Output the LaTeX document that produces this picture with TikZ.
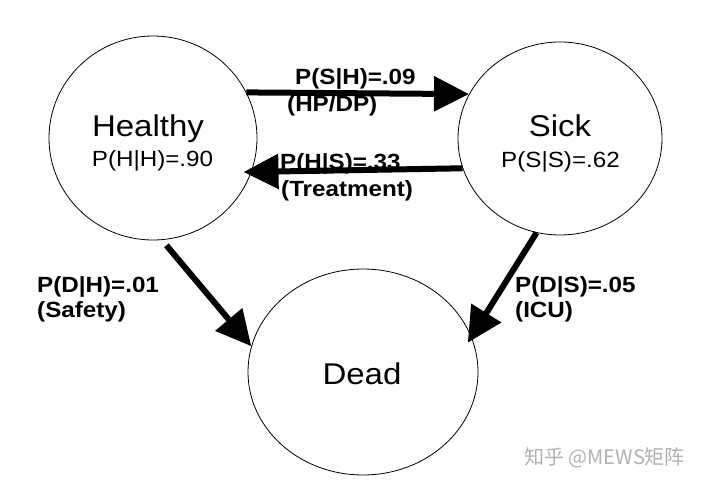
\documentclass[tikz,border=0pt]{standalone}
\usepackage{fontspec}
\setmainfont{Liberation Sans}[FakeStretch=1.1]
\newfontfamily\cjk{Noto Sans CJK SC}
\usetikzlibrary{shapes.geometric,arrows.meta}
\begin{document}
\begin{tikzpicture}[x=1pt,y=1pt,
  state/.style={draw,ellipse,line width=0.8pt,inner sep=0pt},
  bigtxt/.style={inner sep=0pt,anchor=base,font=\fontsize{30}{34}\selectfont},
  probtxt/.style={inner sep=0pt,anchor=base,font=\fontsize{22}{26}\selectfont},
  edgetxt/.style={inner sep=0pt,anchor=base west,font=\bfseries\fontsize{22}{26}\selectfont},
  trans/.style={line width=6pt,-{Triangle[length=35pt,width=34pt]}}]
\fill[white] (0,0) rectangle (708,485);
\useasboundingbox (0,0) rectangle (708,485);
% states
\node[state,minimum width=208pt,minimum height=204pt] (H) at (153,347) {};
\node[state,minimum width=204pt,minimum height=193pt] (S) at (560,346.5) {};
\node[state,minimum width=230pt,minimum height=206pt] (D) at (363,113) {};
\node[bigtxt] (Ht) at (148,348) {Healthy};
\node[probtxt] (Hp) at (152.5,318) {P(H|H)=.90};
\node[bigtxt] (St) at (560,348) {Sick};
\node[probtxt] (Sp) at (560.5,317) {P(S|S)=.62};
\node[bigtxt] (Dt) at (362,101) {Dead};
% transitions
\draw[trans] (H.26) -- (S.154);
\draw[trans,shorten >=-8pt] (S.197.8) -- (H.-19.6);
\draw[trans,shorten <=7pt] (H.-85.8) -- (D.167);
\draw[trans,shorten >=-7pt] (S.256.3) -- (D.18.6);
% labels
\node[edgetxt] (l1) at (295,400) {P(S|H)=.09};
\node[edgetxt] (l2) at (287,373) {(HP/DP)};
\node[edgetxt] (l3) at (280,315) {P(H|S)=.33};
\node[edgetxt] (l4) at (281,288) {(Treatment)};
\node[edgetxt] (l5) at (37,193) {P(D|H)=.01};
\node[edgetxt] (l6) at (37,168) {(Safety)};
\node[edgetxt] (l7) at (515,193) {P(D|S)=.05};
\node[edgetxt] (l8) at (515,168) {(ICU)};
% watermark
\node[inner sep=0pt,anchor=west,text=black!30,font=\cjk\fontsize{20}{24}\selectfont] (wm) at (524,27.5) {知乎 @MEWS矩阵};
\end{tikzpicture}
\end{document}
